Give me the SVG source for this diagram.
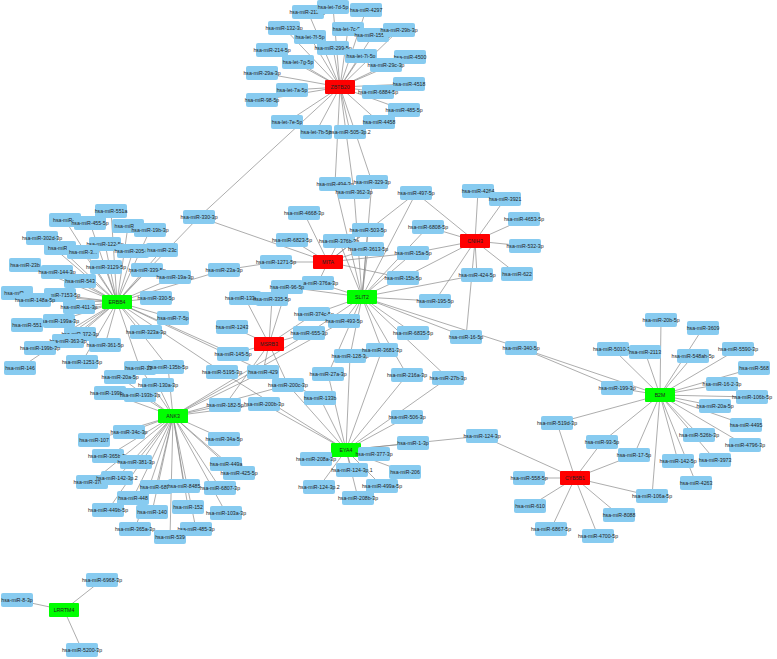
<svg xmlns="http://www.w3.org/2000/svg" width="777" height="659" viewBox="0 0 777 659">
<style>
.e{stroke:#8a8a8a;stroke-width:0.7}
.m rect{fill:#87cbf0;rx:2}
.h rect{rx:1}
.r rect{fill:#ff0000}
.g rect{fill:#00ff00}
text{font-family:"Liberation Sans",Arial,sans-serif;font-size:5.2px;fill:#222;text-anchor:middle;dominant-baseline:central}
</style>
<rect width="777" height="659" fill="#fff"/>
<g id="connectors">
<!-- ZBTB20 -->
<path class="e" d="M340 87L308 12M340 87L333 7M340 87L366 10M340 87L284 28M340 87L310 37M340 87L348 29M340 87L373 35M340 87L399 30M340 87L272 50M340 87L333 48M340 87L361 56M340 87L410 57M340 87L298 62M340 87L386 65M340 87L262 73M340 87L409 84M340 87L292 90M340 87L378 92M340 87L262 100M340 87L404 110M340 87L287 122M340 87L379 122M340 87L316 132M340 87L350 132M340 87L335 184M340 87L354 192M340 87L372 182M340 87L199 217"/>
<!-- SLIT2 -->
<path class="e" d="M362 297L335 184M362 297L354 192M362 297L372 182M362 297L416 193M362 297L428 227M362 297L368 230M362 297L339 241M362 297L368 249M362 297L413 253M362 297L403 278M362 297L435 301M362 297L477 275M362 297L318 283M362 297L287 287M362 297L314 314M362 297L344 321M362 297L309 333M362 297L413 333M362 297L466 337M362 297L521 348M362 297L350 356M362 297L382 350M362 297L328 374M362 297L407 375M362 297L448 378"/>
<!-- MITA -->
<path class="e" d="M328 262L199 217M328 262L304 213M328 262L292 240M328 262L276 262M328 262L368 230M328 262L339 241M328 262L368 249M328 262L413 253M328 262L403 278M328 262L318 283M328 262L416 193"/>
<!-- CNIH3 -->
<path class="e" d="M475 241L478 191M475 241L505 199M475 241L524 219M475 241L525 246M475 241L517 274M475 241L477 275M475 241L428 227M475 241L416 193M475 241L413 253M475 241L403 278M475 241L435 301M475 241L466 337"/>
<!-- MSRB3 -->
<path class="e" d="M269 344L287 287M269 344L245 298M269 344L272 299M269 344L314 314M269 344L309 333M269 344L232 327M269 344L233 354M269 344L263 372M269 344L288 385M269 344L225 405"/>
<!-- ERBB4 -->
<path class="e" d="M117 302L111 211M117 302L65 220M117 302L90 223M117 302L128 226M117 302L150 230M117 302L42 238M117 302L105 244M117 302L60 248M117 302L83 252M117 302L133 251M117 302L162 250M117 302L25 265M117 302L57 272M117 302L106 267M117 302L147 270M117 302L175 277M117 302L80 281M117 302L17 293M117 302L60 295M117 302L35 300M117 302L79 307M117 302L156 298M117 302L59 321M117 302L27 325M117 302L173 318M117 302L80 334M117 302L146 332M117 302L68 341M117 302L40 348M117 302L105 345M117 302L233 354M117 302L82 362M117 302L20 368M117 302L140 368M117 302L168 367M117 302L222 372M117 302L224 270M117 302L320 398M117 302L199 217M224 270L276 262"/>
<!-- ANK3 -->
<path class="e" d="M173 416L120 377M173 416L158 385M173 416L110 393M173 416L140 395M173 416L140 368M173 416L168 367M173 416L263 372M173 416L288 385M173 416L225 405M173 416L264 404M173 416L309 333M173 416L344 321M173 416L129 432M173 416L94 440M173 416L224 439M173 416L108 456M173 416L136 462M173 416L226 464M173 416L239 473M173 416L92 482M173 416L117 478M173 416L156 487M173 416L184 486M173 416L220 488M173 416L133 498M173 416L108 510M173 416L152 512M173 416L188 507M173 416L226 513M173 416L135 529M173 416L196 529M173 416L170 537"/>
<!-- EYA4 -->
<path class="e" d="M346 450L350 356M346 450L382 350M346 450L328 374M346 450L407 375M346 450L448 378M346 450L407 417M346 450L482 436M346 450L413 443M346 450L374 454M346 450L316 459M346 450L352 470M346 450L405 472M346 450L319 487M346 450L382 486M346 450L358 498M346 450L320 398M346 450L264 404M346 450L288 385M346 450L222 372"/>
<!-- B2M -->
<path class="e" d="M660 395L661 320M660 395L703 328M660 395L613 349M660 395L645 352M660 395L693 356M660 395L738 349M660 395L754 368M660 395L722 384M660 395L617 388M660 395L752 397M660 395L715 406M660 395L746 425M660 395L557 423M660 395L699 435M660 395L745 445M660 395L602 442M660 395L634 455M660 395L678 461M660 395L715 460M660 395L696 483M660 395L652 496M660 395L521 348M617 388L521 348"/>
<!-- CYB5B1 -->
<path class="e" d="M575 478L482 436M575 478L557 423M575 478L602 442M575 478L634 455M575 478L652 496M575 478L529 478M575 478L530 506M575 478L551 529M575 478L619 515M575 478L598 536"/>
<!-- LRRTM4 -->
<path class="e" d="M64 610L102 580M64 610L17 600M64 610L82 650"/>
</g>
<g id="hubs">
<g id="ZBTB20" class="h r"><rect x="325" y="80" width="30" height="14"/><text x="340" y="87">ZBTB20</text></g>
<g id="MITA" class="h r"><rect x="313" y="255" width="30" height="14"/><text x="328" y="262">MITA</text></g>
<g id="CNIH3" class="h r"><rect x="460" y="234" width="30" height="14"/><text x="475" y="241">CNIH3</text></g>
<g id="MSRB3" class="h r"><rect x="254" y="337" width="30" height="14"/><text x="269" y="344">MSRB3</text></g>
<g id="CYB5B1" class="h r"><rect x="560" y="471" width="30" height="14"/><text x="575" y="478">CYB5B1</text></g>
<g id="SLIT2" class="h g"><rect x="347" y="290" width="30" height="14"/><text x="362" y="297">SLIT2</text></g>
<g id="ERBB4" class="h g"><rect x="102" y="295" width="30" height="14"/><text x="117" y="302">ERBB4</text></g>
<g id="ANK3" class="h g"><rect x="158" y="409" width="30" height="14"/><text x="173" y="416">ANK3</text></g>
<g id="EYA4" class="h g"><rect x="331" y="443" width="30" height="14"/><text x="346" y="450">EYA4</text></g>
<g id="B2M" class="h g"><rect x="645" y="388" width="30" height="14"/><text x="660" y="395">B2M</text></g>
<g id="LRRTM4" class="h g"><rect x="49" y="603" width="30" height="14"/><text x="64" y="610">LRRTM4</text></g>
</g>
<g id="mirnas" class="m">
<g transform="translate(308 12)"><rect x="-16" y="-7" width="32" height="14"/><text>hsa-miR-212-3p</text></g>
<g transform="translate(333 7)"><rect x="-16" y="-7" width="32" height="14"/><text>hsa-let-7d-5p</text></g>
<g transform="translate(366 10)"><rect x="-16" y="-7" width="32" height="14"/><text>hsa-miR-4297</text></g>
<g transform="translate(284 28)"><rect x="-16" y="-7" width="32" height="14"/><text>hsa-miR-132-3p</text></g>
<g transform="translate(310 37)"><rect x="-16" y="-7" width="32" height="14"/><text>hsa-let-7f-5p</text></g>
<g transform="translate(348 29)"><rect x="-16" y="-7" width="32" height="14"/><text>hsa-let-7c-5p</text></g>
<g transform="translate(373 35)"><rect x="-16" y="-7" width="32" height="14"/><text>hsa-miR-155-3p</text></g>
<g transform="translate(399 30)"><rect x="-16" y="-7" width="32" height="14"/><text>hsa-miR-29b-3p</text></g>
<g transform="translate(272 50)"><rect x="-16" y="-7" width="32" height="14"/><text>hsa-miR-214-5p</text></g>
<g transform="translate(333 48)"><rect x="-16" y="-7" width="32" height="14"/><text>hsa-miR-299-5p</text></g>
<g transform="translate(361 56)"><rect x="-16" y="-7" width="32" height="14"/><text>hsa-let-7i-5p</text></g>
<g transform="translate(410 57)"><rect x="-16" y="-7" width="32" height="14"/><text>hsa-miR-4500</text></g>
<g transform="translate(298 62)"><rect x="-16" y="-7" width="32" height="14"/><text>hsa-let-7g-5p</text></g>
<g transform="translate(386 65)"><rect x="-16" y="-7" width="32" height="14"/><text>hsa-miR-29c-3p</text></g>
<g transform="translate(262 73)"><rect x="-16" y="-7" width="32" height="14"/><text>hsa-miR-29a-3p</text></g>
<g transform="translate(409 84)"><rect x="-16" y="-7" width="32" height="14"/><text>hsa-miR-4518</text></g>
<g transform="translate(292 90)"><rect x="-16" y="-7" width="32" height="14"/><text>hsa-let-7a-5p</text></g>
<g transform="translate(378 92)"><rect x="-16" y="-7" width="32" height="14"/><text>hsa-miR-6884-5p</text></g>
<g transform="translate(262 100)"><rect x="-16" y="-7" width="32" height="14"/><text>hsa-miR-98-5p</text></g>
<g transform="translate(404 110)"><rect x="-16" y="-7" width="32" height="14"/><text>hsa-miR-485-5p</text></g>
<g transform="translate(287 122)"><rect x="-16" y="-7" width="32" height="14"/><text>hsa-let-7e-5p</text></g>
<g transform="translate(379 122)"><rect x="-16" y="-7" width="32" height="14"/><text>hsa-miR-4458</text></g>
<g transform="translate(316 132)"><rect x="-16" y="-7" width="32" height="14"/><text>hsa-let-7b-5p</text></g>
<g transform="translate(350 132)"><rect x="-16" y="-7" width="32" height="14"/><text>hsa-miR-505-3p.2</text></g>
<g transform="translate(199 217)"><rect x="-16" y="-7" width="32" height="14"/><text>hsa-miR-330-3p</text></g>
<g transform="translate(335 184)"><rect x="-16" y="-7" width="32" height="14"/><text>hsa-miR-494-3p</text></g>
<g transform="translate(354 192)"><rect x="-16" y="-7" width="32" height="14"/><text>hsa-miR-362-3p</text></g>
<g transform="translate(372 182)"><rect x="-16" y="-7" width="32" height="14"/><text>hsa-miR-329-3p</text></g>
<g transform="translate(416 193)"><rect x="-16" y="-7" width="32" height="14"/><text>hsa-miR-497-5p</text></g>
<g transform="translate(478 191)"><rect x="-16" y="-7" width="32" height="14"/><text>hsa-miR-4264</text></g>
<g transform="translate(505 199)"><rect x="-16" y="-7" width="32" height="14"/><text>hsa-miR-3921</text></g>
<g transform="translate(524 219)"><rect x="-16" y="-7" width="32" height="14"/><text>hsa-miR-4653-5p</text></g>
<g transform="translate(525 246)"><rect x="-16" y="-7" width="32" height="14"/><text>hsa-miR-532-3p</text></g>
<g transform="translate(517 274)"><rect x="-16" y="-7" width="32" height="14"/><text>hsa-miR-622</text></g>
<g transform="translate(477 275)"><rect x="-16" y="-7" width="32" height="14"/><text>hsa-miR-424-5p</text></g>
<g transform="translate(428 227)"><rect x="-16" y="-7" width="32" height="14"/><text>hsa-miR-6808-5p</text></g>
<g transform="translate(304 213)"><rect x="-16" y="-7" width="32" height="14"/><text>hsa-miR-4668-3p</text></g>
<g transform="translate(368 230)"><rect x="-16" y="-7" width="32" height="14"/><text>hsa-miR-503-5p</text></g>
<g transform="translate(292 240)"><rect x="-16" y="-7" width="32" height="14"/><text>hsa-miR-6823-5p</text></g>
<g transform="translate(339 241)"><rect x="-16" y="-7" width="32" height="14"/><text>hsa-miR-376b-3p</text></g>
<g transform="translate(368 249)"><rect x="-16" y="-7" width="32" height="14"/><text>hsa-miR-3613-5p</text></g>
<g transform="translate(413 253)"><rect x="-16" y="-7" width="32" height="14"/><text>hsa-miR-15a-5p</text></g>
<g transform="translate(276 262)"><rect x="-16" y="-7" width="32" height="14"/><text>hsa-miR-1271-5p</text></g>
<g transform="translate(224 270)"><rect x="-16" y="-7" width="32" height="14"/><text>hsa-miR-23a-3p</text></g>
<g transform="translate(318 283)"><rect x="-16" y="-7" width="32" height="14"/><text>hsa-miR-376a-3p</text></g>
<g transform="translate(403 278)"><rect x="-16" y="-7" width="32" height="14"/><text>hsa-miR-15b-5p</text></g>
<g transform="translate(287 287)"><rect x="-16" y="-7" width="32" height="14"/><text>hsa-miR-96-5p</text></g>
<g transform="translate(435 301)"><rect x="-16" y="-7" width="32" height="14"/><text>hsa-miR-195-5p</text></g>
<g transform="translate(245 298)"><rect x="-16" y="-7" width="32" height="14"/><text>hsa-miR-133a-3p</text></g>
<g transform="translate(272 299)"><rect x="-16" y="-7" width="32" height="14"/><text>hsa-miR-335-5p</text></g>
<g transform="translate(314 314)"><rect x="-16" y="-7" width="32" height="14"/><text>hsa-miR-374c-5p</text></g>
<g transform="translate(344 321)"><rect x="-16" y="-7" width="32" height="14"/><text>hsa-miR-493-5p</text></g>
<g transform="translate(309 333)"><rect x="-16" y="-7" width="32" height="14"/><text>hsa-miR-655-3p</text></g>
<g transform="translate(413 333)"><rect x="-16" y="-7" width="32" height="14"/><text>hsa-miR-6835-5p</text></g>
<g transform="translate(466 337)"><rect x="-16" y="-7" width="32" height="14"/><text>hsa-miR-16-5p</text></g>
<g transform="translate(521 348)"><rect x="-16" y="-7" width="32" height="14"/><text>hsa-miR-340-5p</text></g>
<g transform="translate(232 327)"><rect x="-16" y="-7" width="32" height="14"/><text>hsa-miR-1243</text></g>
<g transform="translate(233 354)"><rect x="-16" y="-7" width="32" height="14"/><text>hsa-miR-145-5p</text></g>
<g transform="translate(222 372)"><rect x="-16" y="-7" width="32" height="14"/><text>hsa-miR-5195-3p</text></g>
<g transform="translate(263 372)"><rect x="-16" y="-7" width="32" height="14"/><text>hsa-miR-429</text></g>
<g transform="translate(288 385)"><rect x="-16" y="-7" width="32" height="14"/><text>hsa-miR-200c-3p</text></g>
<g transform="translate(225 405)"><rect x="-16" y="-7" width="32" height="14"/><text>hsa-miR-182-5p</text></g>
<g transform="translate(264 404)"><rect x="-16" y="-7" width="32" height="14"/><text>hsa-miR-200b-3p</text></g>
<g transform="translate(320 398)"><rect x="-16" y="-7" width="32" height="14"/><text>hsa-miR-133b</text></g>
<g transform="translate(111 211)"><rect x="-16" y="-7" width="32" height="14"/><text>hsa-miR-551a</text></g>
<g transform="translate(65 220)"><rect x="-16" y="-7" width="32" height="14"/><text>hsa-miR-2</text></g>
<g transform="translate(90 223)"><rect x="-16" y="-7" width="32" height="14"/><text>hsa-miR-455-5p</text></g>
<g transform="translate(128 226)"><rect x="-16" y="-7" width="32" height="14"/><text>hsa-miR-22</text></g>
<g transform="translate(150 230)"><rect x="-16" y="-7" width="32" height="14"/><text>hsa-miR-19b-3p</text></g>
<g transform="translate(42 238)"><rect x="-16" y="-7" width="32" height="14"/><text>hsa-miR-302d-3p</text></g>
<g transform="translate(105 244)"><rect x="-16" y="-7" width="32" height="14"/><text>hsa-miR-122-5p</text></g>
<g transform="translate(60 248)"><rect x="-16" y="-7" width="32" height="14"/><text>hsa-miR-1</text></g>
<g transform="translate(83 252)"><rect x="-16" y="-7" width="32" height="14"/><text>hsa-miR-3...</text></g>
<g transform="translate(133 251)"><rect x="-16" y="-7" width="32" height="14"/><text>hsa-miR-205-5p</text></g>
<g transform="translate(162 250)"><rect x="-16" y="-7" width="32" height="14"/><text>hsa-miR-23c</text></g>
<g transform="translate(25 265)"><rect x="-16" y="-7" width="32" height="14"/><text>hsa-miR-23b</text></g>
<g transform="translate(57 272)"><rect x="-16" y="-7" width="32" height="14"/><text>hsa-miR-144-3p</text></g>
<g transform="translate(106 267)"><rect x="-16" y="-7" width="32" height="14"/><text>hsa-miR-3129-5p</text></g>
<g transform="translate(147 270)"><rect x="-16" y="-7" width="32" height="14"/><text>hsa-miR-339-5p</text></g>
<g transform="translate(175 277)"><rect x="-16" y="-7" width="32" height="14"/><text>hsa-miR-19a-3p</text></g>
<g transform="translate(80 281)"><rect x="-16" y="-7" width="32" height="14"/><text>hsa-miR-543</text></g>
<g transform="translate(17 293)"><rect x="-16" y="-7" width="32" height="14"/><text>hsa-miR-...</text></g>
<g transform="translate(60 295)"><rect x="-16" y="-7" width="32" height="14"/><text>hsa-miR-7153-5p</text></g>
<g transform="translate(35 300)"><rect x="-16" y="-7" width="32" height="14"/><text>hsa-miR-148a-5p</text></g>
<g transform="translate(79 307)"><rect x="-16" y="-7" width="32" height="14"/><text>hsa-miR-411-3p</text></g>
<g transform="translate(156 298)"><rect x="-16" y="-7" width="32" height="14"/><text>hsa-miR-330-5p</text></g>
<g transform="translate(59 321)"><rect x="-16" y="-7" width="32" height="14"/><text>hsa-miR-199a-3p</text></g>
<g transform="translate(27 325)"><rect x="-16" y="-7" width="32" height="14"/><text>hsa-miR-551</text></g>
<g transform="translate(173 318)"><rect x="-16" y="-7" width="32" height="14"/><text>hsa-miR-7-5p</text></g>
<g transform="translate(80 334)"><rect x="-16" y="-7" width="32" height="14"/><text>hsa-miR-372-3p</text></g>
<g transform="translate(146 332)"><rect x="-16" y="-7" width="32" height="14"/><text>hsa-miR-323a-3p</text></g>
<g transform="translate(68 341)"><rect x="-16" y="-7" width="32" height="14"/><text>hsa-miR-363-3p</text></g>
<g transform="translate(40 348)"><rect x="-16" y="-7" width="32" height="14"/><text>hsa-miR-199b-3p</text></g>
<g transform="translate(105 345)"><rect x="-16" y="-7" width="32" height="14"/><text>hsa-miR-361-5p</text></g>
<g transform="translate(82 362)"><rect x="-16" y="-7" width="32" height="14"/><text>hsa-miR-1251-5p</text></g>
<g transform="translate(20 368)"><rect x="-16" y="-7" width="32" height="14"/><text>hsa-miR-146</text></g>
<g transform="translate(140 368)"><rect x="-16" y="-7" width="32" height="14"/><text>hsa-miR-135</text></g>
<g transform="translate(168 367)"><rect x="-16" y="-7" width="32" height="14"/><text>hsa-miR-135b-5p</text></g>
<g transform="translate(120 377)"><rect x="-16" y="-7" width="32" height="14"/><text>hsa-miR-20a-5p</text></g>
<g transform="translate(158 385)"><rect x="-16" y="-7" width="32" height="14"/><text>hsa-miR-130a-3p</text></g>
<g transform="translate(110 393)"><rect x="-16" y="-7" width="32" height="14"/><text>hsa-miR-199b-5p</text></g>
<g transform="translate(140 395)"><rect x="-16" y="-7" width="32" height="14"/><text>hsa-miR-193b-3p</text></g>
<g transform="translate(129 432)"><rect x="-16" y="-7" width="32" height="14"/><text>hsa-miR-34c-3p</text></g>
<g transform="translate(94 440)"><rect x="-16" y="-7" width="32" height="14"/><text>hsa-miR-107</text></g>
<g transform="translate(224 439)"><rect x="-16" y="-7" width="32" height="14"/><text>hsa-miR-34a-5p</text></g>
<g transform="translate(108 456)"><rect x="-16" y="-7" width="32" height="14"/><text>hsa-miR-365b-3p</text></g>
<g transform="translate(136 462)"><rect x="-16" y="-7" width="32" height="14"/><text>hsa-miR-381-3p</text></g>
<g transform="translate(226 464)"><rect x="-16" y="-7" width="32" height="14"/><text>hsa-miR-449a</text></g>
<g transform="translate(239 473)"><rect x="-16" y="-7" width="32" height="14"/><text>hsa-miR-425-5p</text></g>
<g transform="translate(92 482)"><rect x="-16" y="-7" width="32" height="14"/><text>hsa-miR-370-3p</text></g>
<g transform="translate(117 478)"><rect x="-16" y="-7" width="32" height="14"/><text>hsa-miR-142-3p.2</text></g>
<g transform="translate(156 487)"><rect x="-16" y="-7" width="32" height="14"/><text>hsa-miR-6892</text></g>
<g transform="translate(184 486)"><rect x="-16" y="-7" width="32" height="14"/><text>hsa-miR-8485</text></g>
<g transform="translate(220 488)"><rect x="-16" y="-7" width="32" height="14"/><text>hsa-miR-6807-3p</text></g>
<g transform="translate(133 498)"><rect x="-16" y="-7" width="32" height="14"/><text>hsa-miR-448</text></g>
<g transform="translate(108 510)"><rect x="-16" y="-7" width="32" height="14"/><text>hsa-miR-449b-5p</text></g>
<g transform="translate(152 512)"><rect x="-16" y="-7" width="32" height="14"/><text>hsa-miR-140</text></g>
<g transform="translate(188 507)"><rect x="-16" y="-7" width="32" height="14"/><text>hsa-miR-152</text></g>
<g transform="translate(226 513)"><rect x="-16" y="-7" width="32" height="14"/><text>hsa-miR-103a-3p</text></g>
<g transform="translate(135 529)"><rect x="-16" y="-7" width="32" height="14"/><text>hsa-miR-365a-3p</text></g>
<g transform="translate(196 529)"><rect x="-16" y="-7" width="32" height="14"/><text>hsa-miR-485-3p</text></g>
<g transform="translate(170 537)"><rect x="-16" y="-7" width="32" height="14"/><text>hsa-miR-539</text></g>
<g transform="translate(350 356)"><rect x="-16" y="-7" width="32" height="14"/><text>hsa-miR-128-3p</text></g>
<g transform="translate(382 350)"><rect x="-16" y="-7" width="32" height="14"/><text>hsa-miR-3681-3p</text></g>
<g transform="translate(328 374)"><rect x="-16" y="-7" width="32" height="14"/><text>hsa-miR-27a-3p</text></g>
<g transform="translate(407 375)"><rect x="-16" y="-7" width="32" height="14"/><text>hsa-miR-216a-3p</text></g>
<g transform="translate(448 378)"><rect x="-16" y="-7" width="32" height="14"/><text>hsa-miR-27b-3p</text></g>
<g transform="translate(407 417)"><rect x="-16" y="-7" width="32" height="14"/><text>hsa-miR-506-3p</text></g>
<g transform="translate(482 436)"><rect x="-16" y="-7" width="32" height="14"/><text>hsa-miR-124-3p</text></g>
<g transform="translate(413 443)"><rect x="-16" y="-7" width="32" height="14"/><text>hsa-miR-1-3p</text></g>
<g transform="translate(374 454)"><rect x="-16" y="-7" width="32" height="14"/><text>hsa-miR-377-3p</text></g>
<g transform="translate(316 459)"><rect x="-16" y="-7" width="32" height="14"/><text>hsa-miR-208a-3p</text></g>
<g transform="translate(352 470)"><rect x="-16" y="-7" width="32" height="14"/><text>hsa-miR-124-3p.1</text></g>
<g transform="translate(405 472)"><rect x="-16" y="-7" width="32" height="14"/><text>hsa-miR-206</text></g>
<g transform="translate(319 487)"><rect x="-16" y="-7" width="32" height="14"/><text>hsa-miR-124-3p.2</text></g>
<g transform="translate(382 486)"><rect x="-16" y="-7" width="32" height="14"/><text>hsa-miR-499a-5p</text></g>
<g transform="translate(358 498)"><rect x="-16" y="-7" width="32" height="14"/><text>hsa-miR-208b-3p</text></g>
<g transform="translate(661 320)"><rect x="-16" y="-7" width="32" height="14"/><text>hsa-miR-20b-5p</text></g>
<g transform="translate(703 328)"><rect x="-16" y="-7" width="32" height="14"/><text>hsa-miR-3609</text></g>
<g transform="translate(613 349)"><rect x="-16" y="-7" width="32" height="14"/><text>hsa-miR-5010-3p</text></g>
<g transform="translate(645 352)"><rect x="-16" y="-7" width="32" height="14"/><text>hsa-miR-2113</text></g>
<g transform="translate(693 356)"><rect x="-16" y="-7" width="32" height="14"/><text>hsa-miR-548ah-5p</text></g>
<g transform="translate(738 349)"><rect x="-16" y="-7" width="32" height="14"/><text>hsa-miR-5590-3p</text></g>
<g transform="translate(754 368)"><rect x="-16" y="-7" width="32" height="14"/><text>hsa-miR-568</text></g>
<g transform="translate(722 384)"><rect x="-16" y="-7" width="32" height="14"/><text>hsa-miR-16-2-3p</text></g>
<g transform="translate(617 388)"><rect x="-16" y="-7" width="32" height="14"/><text>hsa-miR-199-3p</text></g>
<g transform="translate(752 397)"><rect x="-16" y="-7" width="32" height="14"/><text>hsa-miR-106b-5p</text></g>
<g transform="translate(715 406)"><rect x="-16" y="-7" width="32" height="14"/><text>hsa-miR-20a-5p</text></g>
<g transform="translate(746 425)"><rect x="-16" y="-7" width="32" height="14"/><text>hsa-miR-4495</text></g>
<g transform="translate(557 423)"><rect x="-16" y="-7" width="32" height="14"/><text>hsa-miR-519d-3p</text></g>
<g transform="translate(699 435)"><rect x="-16" y="-7" width="32" height="14"/><text>hsa-miR-526b-3p</text></g>
<g transform="translate(745 445)"><rect x="-16" y="-7" width="32" height="14"/><text>hsa-miR-4796-3p</text></g>
<g transform="translate(602 442)"><rect x="-16" y="-7" width="32" height="14"/><text>hsa-miR-93-5p</text></g>
<g transform="translate(634 455)"><rect x="-16" y="-7" width="32" height="14"/><text>hsa-miR-17-5p</text></g>
<g transform="translate(678 461)"><rect x="-16" y="-7" width="32" height="14"/><text>hsa-miR-142-5p</text></g>
<g transform="translate(715 460)"><rect x="-16" y="-7" width="32" height="14"/><text>hsa-miR-3973</text></g>
<g transform="translate(696 483)"><rect x="-16" y="-7" width="32" height="14"/><text>hsa-miR-4263</text></g>
<g transform="translate(652 496)"><rect x="-16" y="-7" width="32" height="14"/><text>hsa-miR-106a-5p</text></g>
<g transform="translate(529 478)"><rect x="-16" y="-7" width="32" height="14"/><text>hsa-miR-558-5p</text></g>
<g transform="translate(530 506)"><rect x="-16" y="-7" width="32" height="14"/><text>hsa-miR-610</text></g>
<g transform="translate(551 529)"><rect x="-16" y="-7" width="32" height="14"/><text>hsa-miR-6867-5p</text></g>
<g transform="translate(619 515)"><rect x="-16" y="-7" width="32" height="14"/><text>hsa-miR-8088</text></g>
<g transform="translate(598 536)"><rect x="-16" y="-7" width="32" height="14"/><text>hsa-miR-4700-5p</text></g>
<g transform="translate(102 580)"><rect x="-16" y="-7" width="32" height="14"/><text>hsa-miR-6968-3p</text></g>
<g transform="translate(17 600)"><rect x="-16" y="-7" width="32" height="14"/><text>hsa-miR-8-3p</text></g>
<g transform="translate(82 650)"><rect x="-16" y="-7" width="32" height="14"/><text>hsa-miR-5200-3p</text></g>
</g>
</svg>
